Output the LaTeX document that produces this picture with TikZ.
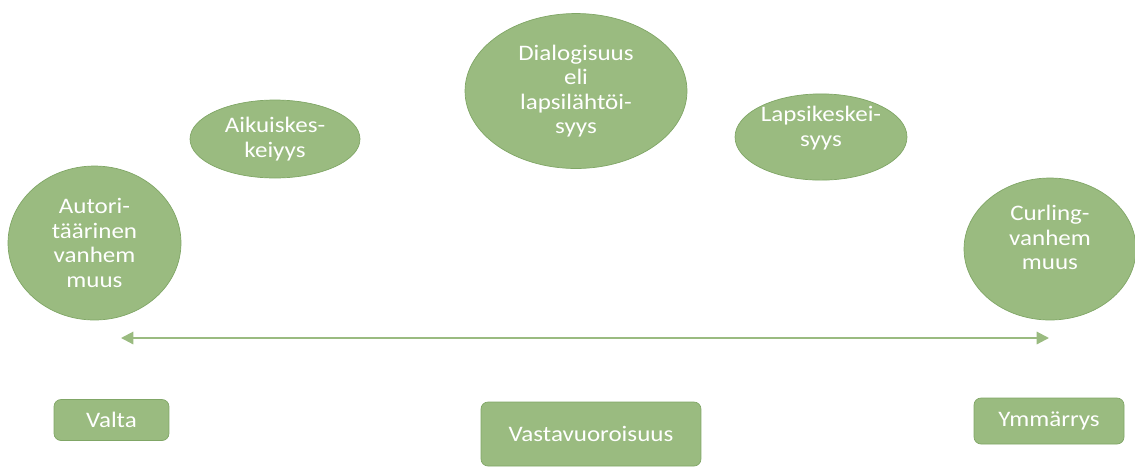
\documentclass[tikz,border=0pt]{standalone}
\usepackage{fontspec}
\setmainfont{Carlito}[FakeStretch=1.13]
\usepackage{tikz}
\usetikzlibrary{arrows.meta, positioning, shapes.geometric}
\definecolor{leaf}{RGB}{154,187,128}
\definecolor{leafdark}{RGB}{128,166,102}
\tikzset{%
	stance/.style={draw=leafdark, fill=leaf, ellipse, inner sep=0mm, align=center,%
		text=white, font=\fontsize{12.6}{14}\selectfont},
	pole/.style={draw=leafdark, fill=leaf, rectangle, rounded corners=4pt, inner sep=0mm,%
		text=white, font=\fontsize{12.6}{14}\selectfont},
	spectrum/.style={{Triangle[length=7pt,width=7pt]}-{Triangle[length=7pt,width=7pt]}, leaf, line width=1.2pt}
}
\begin{document}
\begin{tikzpicture}[x=0.02cm, y=-0.02cm]
	\useasboundingbox (0,0) rectangle (1135,468);
	\node[stance, minimum width=3.46cm, minimum height=3.08cm] (auth) at (94.5,243) {Autori-\\täärinen\\vanhem\\muus};
	\node[stance, minimum width=3.4cm, minimum height=1.56cm] (adult) at (275,139) {Aikuiskes-\\keiyys};
	\node[stance, minimum width=4.44cm, minimum height=3.1cm] (dial) at (576,91) {Dialogisuus\\eli\\lapsilähtöi-\\syys};
	\node[stance, minimum width=3.44cm, minimum height=1.56cm, text depth=0.42cm] (child) at (821,137) {Lapsikeskei-\\syys};
	\node[stance, minimum width=3.44cm, minimum height=2.84cm, text depth=0.46cm] (curl) at (1050,249) {Curling-\\vanhem\\muus};

	\coordinate (left) at (121,338);
	\coordinate (right) at (1049,338);
	\draw[spectrum] (left) -- (right);

	\node[pole, minimum width=2.3cm, minimum height=0.82cm] (power) at (111.5,420) {Valta};
	\node[pole, minimum width=4.4cm, minimum height=1.28cm] (mutual) at (591,434) {Vastavuoroisuus};
	\node[pole, minimum width=3cm, minimum height=0.92cm] (grasp) at (1049,421) {Ymmärrys};
\end{tikzpicture}
\end{document}
